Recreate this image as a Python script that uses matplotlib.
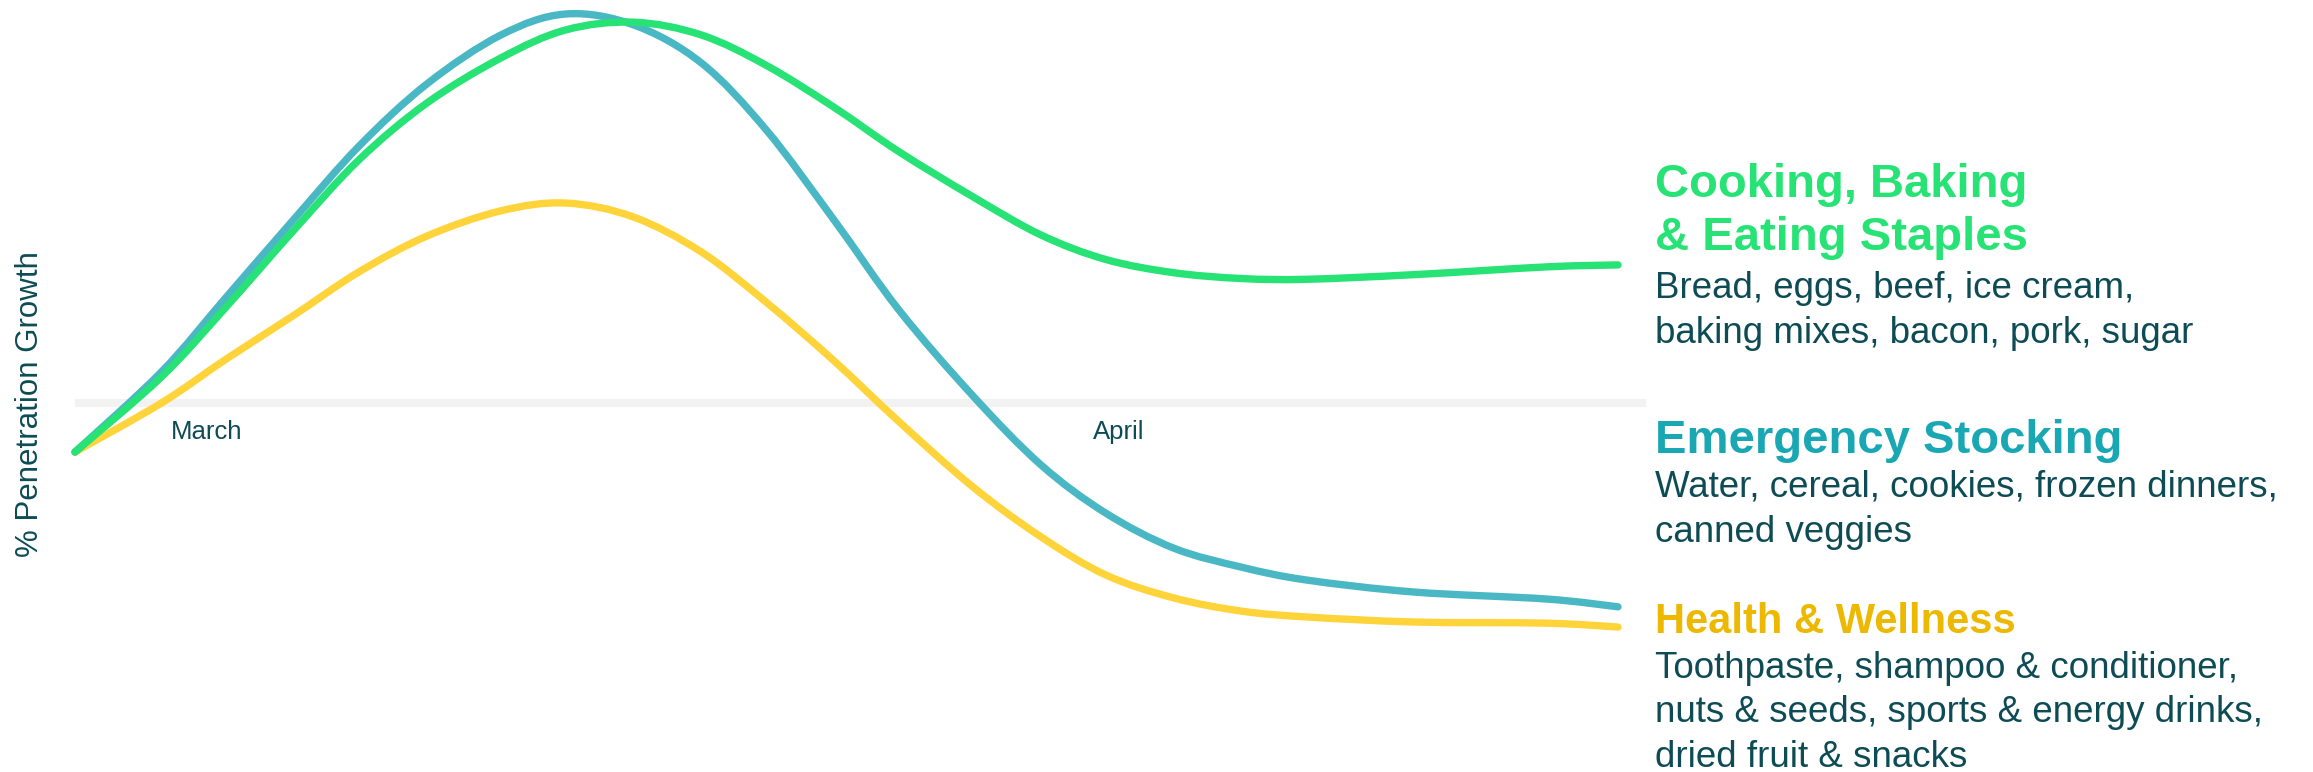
import matplotlib
matplotlib.use("Agg")
import matplotlib.pyplot as plt
from matplotlib.path import Path
from matplotlib.patches import PathPatch

# Settings
W, H = 2313, 772
FONT = "Liberation Sans"
DARK = "#0e4c55"

# Data (x = days since start, y = % penetration growth index)
days = [0.0, 2.8, 4.9, 7.1, 9.2, 11.4, 13.8, 15.9, 18.1, 20.3, 22.4, 24.6,
        26.7, 29.1, 31.3, 33.4, 35.6, 37.8, 39.9, 43.4, 47.7, 50.0]

emergency = [-12.6, 8.0, 27.2, 47.3, 66.0, 82.0, 94.6, 100.0, 97.2, 87.4,
             70.2, 47.0, 23.9, 1.8, -15.9, -28.3, -37.3, -42.2, -45.5, -48.6,
             -50.4, -52.4]

cooking = [-12.6, 6.7, 24.7, 44.5, 62.5, 77.1, 88.7, 95.9, 97.9, 94.6, 86.8,
           76.0, 64.6, 53.0, 43.2, 36.9, 33.5, 32.0, 31.8, 33.0, 35.0, 35.5]

health = [-12.6, 0.0, 11.3, 22.6, 33.7, 42.9, 49.4, 51.4, 47.8, 38.8, 25.9,
          10.8, -4.8, -21.6, -34.4, -44.2, -50.1, -53.5, -55.0, -56.3, -56.6,
          -57.6]

month_labels = ["March", "April"]
month_days = [3.1, 33.0]

cooking_title = ["Cooking, Baking", "& Eating Staples"]
cooking_items = ["Bread, eggs, beef, ice cream,", "baking mixes, bacon, pork, sugar"]
emergency_title = ["Emergency Stocking"]
emergency_items = ["Water, cereal, cookies, frozen dinners,", "canned veggies"]
health_title = ["Health & Wellness"]
health_items = ["Toothpaste, shampoo & conditioner,",
                "nuts & seeds, sports & energy drinks,",
                "dried fruit & snacks"]

plt.rcParams["font.family"] = [FONT, "DejaVu Sans"]

fig = plt.figure(figsize=(W / 100, H / 100), dpi=100)
ax = fig.add_axes([75 / W, 0, 1543 / W, 1])
ax.set_xlim(0, 50)
ax.set_ylim(-94.86, 103.6)
ax.axis("off")


def smooth_line(xs, ys, color, z):
    # smoothed line through the points (catmull-rom as bezier segments)
    pts = list(zip(xs, ys))
    n = len(pts)
    verts = [pts[0]]
    codes = [Path.MOVETO]
    for i in range(n - 1):
        p0 = pts[max(i - 1, 0)]
        p1 = pts[i]
        p2 = pts[i + 1]
        p3 = pts[min(i + 2, n - 1)]
        c1 = (p1[0] + (p2[0] - p0[0]) / 6, p1[1] + (p2[1] - p0[1]) / 6)
        c2 = (p2[0] - (p3[0] - p1[0]) / 6, p2[1] - (p3[1] - p1[1]) / 6)
        verts += [c1, c2, p2]
        codes += [Path.CURVE4] * 3
    patch = PathPatch(Path(verts, codes), fill=False, edgecolor=color, lw=5.3,
                      capstyle="round", joinstyle="round", clip_on=False,
                      zorder=z)
    ax.add_patch(patch)


# zero line
ax.plot([0, 50.9], [0, 0], color="#f2f2f2", lw=5.8, solid_capstyle="butt",
        clip_on=False, zorder=1)

smooth_line(days, health, "#ffd43b", 2)
smooth_line(days, emergency, "#4ab8c4", 3)
smooth_line(days, cooking, "#27e274", 4)

for lab, d in zip(month_labels, month_days):
    ax.text(d, -9.25, lab, fontsize=18.5, color=DARK, ha="left", va="baseline")

fig.text(30 / W, 1 - 404 / H, "% Penetration Growth", rotation=90,
         fontsize=22.5, color=DARK, ha="center", va="center")


def put(lines, y0, step, size, color, weight="normal"):
    for i, s in enumerate(lines):
        fig.text(1655 / W, 1 - (y0 + i * step) / H, s, fontsize=size,
                 color=color, fontweight=weight, ha="left", va="baseline")


put(cooking_title, 197, 53, 34, "#27e274", "bold")
put(cooking_items, 298, 45, 26.5, DARK)
put(emergency_title, 453, 0, 34, "#1aa7b4", "bold")
put(emergency_items, 497, 45.5, 26.5, DARK)
put(health_title, 633, 0, 30, "#ecb800", "bold")
put(health_items, 678, 44.5, 26.5, DARK)

fig.savefig("out.png", dpi=100, facecolor="white")
